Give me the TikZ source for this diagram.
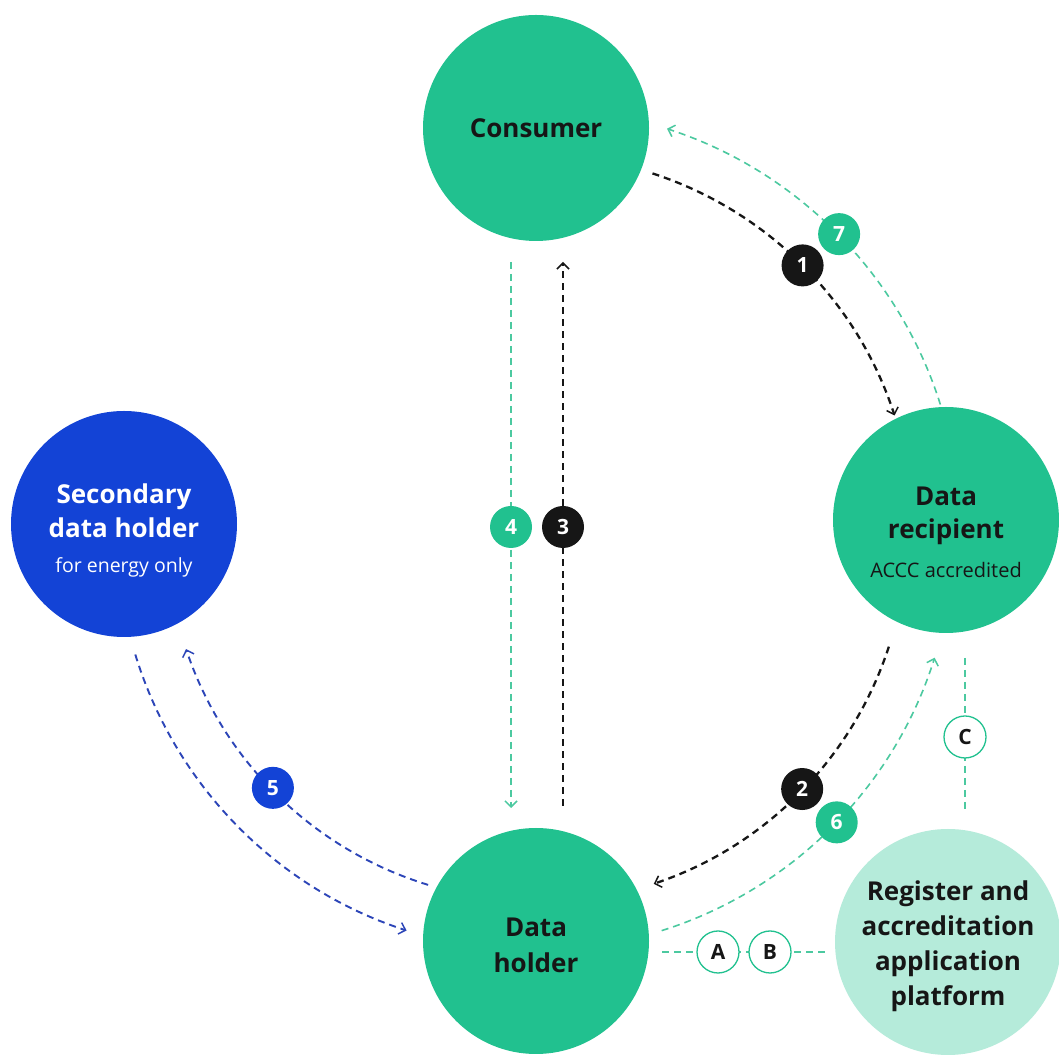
\documentclass[tikz,border=0pt]{standalone}
\usepackage{fontspec}
\setmainfont{Open Sans}
\usetikzlibrary{arrows.meta,calc}
\definecolor{cgreen}{HTML}{21C18F}
\definecolor{cblue}{HTML}{1343D6}
\definecolor{cmint}{HTML}{B5EBDA}
\definecolor{clinegreen}{HTML}{4CC9A0}
\definecolor{cdark}{HTML}{161616}
\definecolor{cbluel}{HTML}{2C45B8}
\begin{document}
\begin{tikzpicture}[x=1pt,y=1pt,
  actor/.style={circle, inner sep=0pt, minimum size=226pt},
  actortext/.style={align=center, inner sep=0pt, text=cdark, font=\fontsize{26}{35}\selectfont\bfseries},
  badge/.style={circle, inner sep=0pt, minimum size=42pt, text=white, font=\fontsize{21}{21}\selectfont\bfseries},
  letterbadge/.style={badge, fill=white, draw=cgreen, line width=1.3pt, text=cdark},
  tipv/.style={-{Straight Barb[length=6pt,width=12pt,line width=1.5pt]}},
  flowblack/.style={draw=cdark, line width=2.3pt, dash pattern=on 7pt off 5pt},
  flowgreen/.style={draw=clinegreen, line width=1.6pt, dash pattern=on 7pt off 5pt},
  flowblue/.style={draw=cbluel, line width=1.9pt, dash pattern=on 7pt off 5pt},
]
\useasboundingbox (0,0) rectangle (1059,1056);
\fill[white] (0,0) rectangle (1059,1056);

% centre of the ring of arcs
\coordinate (O) at (536,524);

% arcs
\draw[flowblack,tipv] ($(O)+(72:377)$) arc[start angle=72,end angle=18,radius=377];
\draw[flowgreen,tipv] ($(O)+(17.5:424)$) arc[start angle=17.5,end angle=72,radius=424];
\draw[flowblack,tipv] ($(O)+(-18:371)$) arc[start angle=-18,end angle=-71.5,radius=371];
\draw[flowgreen,tipv] ($(O)+(-72.5:418)$) arc[start angle=-72.5,end angle=-17.5,radius=418];
\draw[flowblue,tipv] ($(O)+(197:419)$) arc[start angle=197,end angle=252,radius=419];
\draw[flowblue,tipv] ($(O)+(253:369)$) arc[start angle=253,end angle=198.5,radius=369];

% vertical lines
\coordinate (g4s) at (511,794);
\coordinate (g4e) at (511,248);
\coordinate (b3s) at (563,250);
\coordinate (b3e) at (563,794);
\draw[flowgreen,tipv] (g4s) -- (g4e);
\draw[flowblack,tipv] (b3s) -- (b3e);

% register links
\coordinate (cs) at (965,398);
\coordinate (ce) at (965,244);
\draw[flowgreen] (cs) -- (ce);
\coordinate (abs) at (662,104);
\coordinate (abe) at (825,104);
\draw[flowgreen] (abs) -- (abe);

% actors
\node[actor, fill=cgreen] (con) at (536,928) {};
\node[actor, fill=cgreen] (rec) at (946,536) {};
\node[actor, fill=cblue] (sec) at (124,532) {};
\node[actor, fill=cgreen] (hol) at (536,115) {};
\node[actor, fill=cmint] (reg) at (948,114) {};

\node[actortext] (cont) at (536,928) {Consumer};
\node[actortext] (rect) at (946,523.5) {Data\\[-2pt]recipient\\[4pt]{\mdseries\fontsize{20}{35}\selectfont ACCC accredited}};
\node[actortext, text=white] (sect) at (124,526) {Secondary\\[-1pt]data holder\\[0pt]{\mdseries\fontsize{19.5}{35}\selectfont for energy only}};
\node[actortext] (holt) at (536,111) {Data\\[1pt]holder};
\node[actortext] (regt) at (948,110) {Register and\\accreditation\\application\\platform};

% badges
\node[badge, fill=cdark] (n1) at ($(O)+(45:377)$) {1};
\node[badge, fill=cgreen] (n7) at ($(O)+(44.5:425)$) {7};
\node[badge, fill=cdark] (n2) at ($(O)+(-44:370)$) {2};
\node[badge, fill=cgreen] (n6) at ($(O)+(-44:418)$) {6};
\node[badge, fill=cblue] (n5) at ($(O)+(224.2:367)$) {5};
\node[badge, fill=cgreen] (n4) at (511,529) {4};
\node[badge, fill=cdark] (n3) at (563,529) {3};
\node[letterbadge] (nc) at (965,319) {C};
\node[letterbadge] (na) at (718,104) {A};
\node[letterbadge] (nb) at (770,104) {B};
\end{tikzpicture}
\end{document}
